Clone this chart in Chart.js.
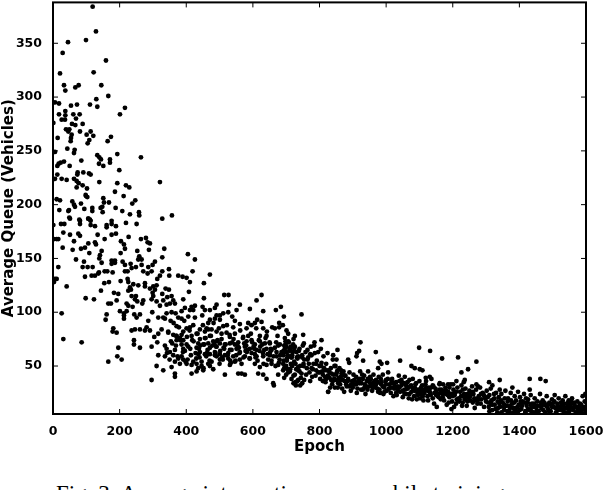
<!DOCTYPE html>
<html lang="en">
<head>
    <meta charset="UTF-8">
    <title>Average Queue per Epoch</title>
    <script src="https://cdn.jsdelivr.net/npm/chart.js"></script>
    <style>
        html, body { margin: 0; padding: 0; background: #fff; overflow: hidden; width: 604px; height: 490px; }
        #wrap { position: relative; width: 604px; height: 490px; overflow: hidden; }
        canvas { position: absolute; left: 0; top: 0; }
        #caption { position: absolute; left: 56px; top: 481px; font: 23px "Liberation Serif", serif; white-space: nowrap; color: #000; }
    </style>
</head>
<body>
    <div id="wrap">
        <canvas id="myChart" width="604" height="460"></canvas>
        <div id="caption">Fig. 3: Average intersection queue while training</div>
    </div>

    <script>
        const xTicks = [0, 200, 400, 600, 800, 1000, 1200, 1400, 1600];
        const yTicks = [50, 100, 150, 200, 250, 300, 350];

        // values, top part of the cloud
        const epochsHigh = [119,129,45,99,29,159,21,122,33,37,67,77,145,166,130,6,18,54,72,111,133,216,37,37,18,61,80,201,69,26,36,1,
            57,67,89,39,49,46,81,113,101,121,56,174,14,54,164,53,109,104,43,65,63,6,193,133,139,144,264,85,171,171,33,23,17,13,
            138,50,151,199,91,74,73,108,113,13,6,26,41,63,71,77,139,321,193,89,219,229,71,102,186,98,103,99,212,151,11,21,
            247,238,58,63,66,84,168,153,148,19,48,94,118,118,188,143,149,208,46,231,258,259,357,328,49,79,106,111,176];
        const queueHigh = [384,361,351,353,341,334,322,323,311,306,309,311,311,301,298,295,294,292,293,293,291,290,287,283,284,284,284,284,280,279,279,276,
            275,274,275,270,270,268,268,268,265,264,265,263,262,262,259,259,260,257,252,251,248,249,247,246,244,242,244,241,242,239,240,239,238,236,
            238,236,236,232,230,230,228,229,228,228,224,224,223,224,222,220,221,221,220,218,218,216,216,215,212,209,207,208,208,206,205,204,
            204,201,203,200,198,201,202,202,198,195,195,196,197,194,197,197,193,194,194,191,193,190,190,187,188,186,187,186,185];

        // middle of the cloud
        const epochsMid = [1,24,34,51,81,81,106,113,126,113,161,161,176,189,219,251,31,11,16,3,51,76,81,134,176,189,227,63,155,204,126,129,
            106,96,213,216,264,279,284,291,29,59,84,334,288,146,109,253,259,203,141,139,405,426,328,69,256,266,146,176,186,176,
            186,93,209,216,233,306,299,16,89,104,119,266,236,249,286,216,224,155,163,179,138,271,284,296,328,348,419,471,376,389,401,349,
            96,116,126,136,313,321,6,11,3,203,224,226,411,453,241,256,231,154,168,276,276,301,311,291,306,41,338,348,226,234,144,183,
            196,408,249,236,299,301,328,343,356,361,514,527,626,98,123,453,391,611,296,311,321,331,341,246,253,271,268,191,166,174,221,226,
            239,351,366,491,486,528,561,551,396,386,416,426,411,421,449,456,471,591,631,669,684,298,26,201,213,221,341,356,368,448,511,526,
            491,501,693,538,161,158,213,213,244,261,251,376,386,406,316,331,336,286,353,471,486,466,501,613,606,561,511,541,371,401,411,421,
            596,679,679,666,631,281,276,291,181,191,179,236,246,261,326,441,461,476,456,491,506,521,581,701,346,361,391,371,386,431,416,546];
        const queueMid = [181,182,182,187,185,182,187,185,180,181,181,179,182,180,183,182,174,168,168,168,172,173,171,172,172,173,170,166,168,166,165,163,
            164,160,163,159,168,169,165,164,160,158,159,159,158,157,155,157,152,155,153,150,154,149,151,149,149,149,146,148,148,145,
            146,147,147,144,145,147,144,142,142,142,142,144,141,142,142,138,138,138,138,137,137,138,136,138,138,140,138,135,134,133,132,134,
            133,134,134,136,131,134,131,131,128,129,131,128,128,127,126,125,123,127,128,127,124,124,125,122,121,124,122,121,120,121,120,118,
            117,119,115,115,118,115,117,114,115,111,116,116,116,113,112,113,112,111,112,110,106,111,107,112,110,111,108,111,108,108,108,106,
            105,108,108,107,104,107,107,102,104,101,105,106,102,102,105,102,102,103,101,102,105,100,99,101,99,101,99,100,99,97,99,100,
            97,97,96,96,98,93,97,94,98,98,95,95,94,96,95,95,94,92,92,93,94,90,93,93,90,89,87,86,87,85,86,88,
            88,90,86,85,85,86,83,83,85,81,82,83,84,84,84,84,85,84,82,82,80,81,85,83,81,79,82,78,79,80,78,80];

        // lower part of the cloud, 250 to 740
        const epochsLow = [471,456,441,621,641,726,31,304,316,371,391,381,531,491,571,586,596,581,696,706,86,243,243,313,436,451,466,481,501,516,531,546,
            606,621,636,651,681,701,721,196,261,296,336,341,369,401,391,431,471,491,576,591,611,531,551,561,641,656,671,711,731,441,456,471,
            486,501,516,351,361,396,386,376,391,316,336,491,506,526,541,576,591,611,631,651,671,691,711,736,193,206,166,366,381,401,421,431,
            446,466,471,501,531,546,561,606,621,641,656,676,691,716,736,311,356,331,366,366,436,451,431,481,416,516,556,566,576,616,631,676,
            691,711,726,641,661,663,296,729,736];
        const queueLow = [78,76,75,78,78,78,75,77,80,74,74,76,77,73,77,78,74,73,76,73,72,74,70,72,71,70,71,73,71,70,71,70,
            70,73,71,71,70,68,70,67,67,68,69,66,69,70,66,67,67,68,68,66,65,65,66,63,66,65,63,65,63,63,61,61,
            63,61,60,63,60,64,59,57,56,60,59,59,57,57,59,59,57,59,59,60,59,60,59,59,59,56,54,54,52,52,54,52,
            50,52,50,56,51,54,56,52,49,51,52,51,52,51,49,50,49,46,43,40,48,46,45,47,43,42,43,43,42,43,42,42,
            46,45,42,38,34,32,37,32,37];

        // the darkest part of the cloud, 340 to 780
        const epochsCore = [342,350,358,366,374,382,390,398,406,414,422,430,438,446,454,462,
            470,478,486,494,502,510,518,526,534,542,550,558,566,574,582,590,
            598,606,614,622,630,638,646,654,662,670,678,686,694,702,710,718,
            346,354,362,370,378,386,394,402,410,418,426,434,442,450,458,466,
            474,482,490,498,506,514,522,530,538,546,554,562,570,578,586,594,
            602,610,618,626,634,642,650,658,666,674,682,690,698,706,714,722,
            404,416,428,440,452,464,476,488,500,512,524,536,548,560,572,584,
            596,608,620,632,644,656,668,680,692,704,716,728,740,752,764,776,
            412,436,460,484,508,532,556,580,604,628,652,676,700,724,748,772];
        const queueCore = [62,56,71,65,59,74,63,54,68,60,73,57,66,54,70,62,
            55,69,60,74,64,56,70,62,53,75,60,67,52,71,63,57,
            72,61,55,68,62,76,56,66,59,72,53,63,69,57,64,50,
            82,73,90,78,86,70,92,77,83,74,95,80,69,88,76,84,
            78,90,68,85,75,66,88,79,72,92,69,83,76,64,90,80,
            68,85,74,91,65,82,72,86,67,78,60,88,73,80,68,75,
            56,51,62,58,48,65,54,62,52,67,60,65,55,62,58,65,
            62,58,64,52,61,55,50,56,64,47,58,52,45,50,56,48,
            66,61,59,70,58,55,72,69,66,70,63,69,63,66,58,61];

        // scattered marks above the band on the right
        const epochsOutliers = [746,751,753,785,806,923,919,913,969,1099,1132,1168,1216,1271,1042,1003,981,986,976,931,911,886,889,854,841,851,1076,1086,1101,1109,1246,1226,
            1341,1431,1463,1479,1309,1319,1431,1379,1271,1276,1236,1233,1211,1186,1201,1161,1171,1131,1119,1056,1046,1341,1396,826];
        const queueOutliers = [98,79,71,72,74,72,64,62,63,67,64,57,58,54,55,53,54,52,48,55,59,56,53,65,60,56,50,48,47,46,47,44,
            37,38,38,36,35,32,28,30,33,31,37,35,36,33,33,34,33,40,39,40,37,28,26,26];

        // the dense band, 690 to 1170
        const epochsBand = [690,694,698,702,706,710,714,718,722,726,730,734,738,742,746,750,
            692,696,700,704,708,712,716,720,724,728,732,736,740,744,748,752,
            754,758,762,766,770,774,778,782,786,790,694,700,716,722,734,742,
            748,754,760,764,768,772,776,780,784,788,792,796,800,804,808,812,
            816,820,824,828,832,836,840,844,848,852,856,860,864,868,872,876,
            796,802,806,810,814,818,822,826,830,834,838,842,846,850,854,858,
            862,866,870,874,878,882,886,890,894,898,902,906,910,914,918,922,
            926,930,934,938,942,946,950,954,958,962,966,970,974,978,982,986,
            990,994,998,1002,1006,1010,1014,1018,1022,1026,1030,1034,1038,1042,1046,1050,
            880,900,912,920,928,936,944,952,960,968,976,984,992,1000,1008,1016,
            1024,1032,1040,1048,1056,1060,1064,1068,1072,1076,1080,1084,1088,1092,1096,1100,
            1104,1108,1112,1116,1120,1124,1128,1132,1136,1140,1144,1148,1152,1156,1160,1164,
            1054,1062,1070,1078,1086,1094,1102,1110,1118,1126,1134,1142,1150,1158,1166,1170,
            790,800,810,820,830,840,850,860,870,880,890,900,910,920,930,940,
            950,960,970,980,990,1000,1010,1020,1030,1040,1050,1060,1070,1080,1090,1100,
            1110,1120,1130,1140,1150,1160,1170,1180,1190,1200,1210,1220,1230,1240,1250,1260,
            805,825,845,865,885,905,925,945,965,985,1005,1025,1045,1065,1085,1105,
            815,835,855,875,895,915,935,955,975,995,1015,1035,1055,1075,1095,1115];
        const queueBand = [62,48,70,55,44,66,52,60,41,68,47,57,64,50,43,69,
            55,66,42,60,72,47,38,63,54,35,58,46,66,39,60,52,
            37,63,48,58,44,68,40,52,62,46,39,50,58,34,36,32,
            34,56,42,65,52,36,60,47,69,41,55,63,50,66,45,59,
            40,52,62,46,30,43,56,38,50,44,34,48,40,29,45,36,
            44,38,53,42,48,35,46,26,39,48,33,42,30,37,46,39,
            33,43,37,26,41,31,38,44,27,36,42,33,40,29,37,45,
            34,28,41,24,36,45,31,38,27,42,33,37,29,40,25,35,
            42,30,36,27,44,33,25,38,22,31,35,28,41,26,32,21,
            35,30,25,38,42,33,28,40,34,30,26,38,24,33,29,36,
            29,23,36,34,28,24,35,20,31,26,38,22,33,19,28,36,
            24,32,18,28,36,22,30,25,38,20,15,29,12,24,33,19,
            34,29,37,19,30,25,20,27,33,18,23,31,26,21,28,24,
            52,44,36,38,44,36,42,36,42,33,31,36,33,34,38,31,
            35,30,33,28,31,37,29,34,25,30,27,32,24,29,34,27,
            22,30,27,32,23,28,21,27,30,22,26,19,28,23,18,26,
            50,41,50,46,36,37,28,38,36,33,38,34,36,29,27,30,
            46,37,30,41,33,35,30,33,35,26,30,31,24,32,23,25];

        // tail of the run, 1170 to 1600
        const epochsTail = [1174,1178,1182,1186,1190,1194,1198,1202,1206,1210,1214,1218,1222,1226,1230,1234,
            1238,1242,1246,1250,1254,1258,1262,1266,1270,1274,1278,1282,1286,1290,1294,1298,
            1302,1306,1310,1314,1318,1322,1326,1330,1334,1338,1342,1346,1350,1354,1358,1362,
            1366,1370,1374,1378,1382,1386,1390,1394,1398,1402,1406,1410,1414,1418,1422,1426,
            1430,1434,1438,1442,1446,1450,1454,1458,1462,1466,1470,1474,1478,1482,1486,1490,
            1494,1498,1502,1506,1510,1514,1518,1522,1526,1530,1534,1538,1542,1546,1550,1554,
            1558,1562,1566,1570,1574,1578,1582,1586,1590,1594,1598,1180,1196,1212,1228,1244,
            1260,1276,1292,1308,1324,1340,1356,1372,1388,1404,1420,1436,1452,1468,1484,1500,
            1516,1532,1548,1564,1580,1596,1310,1328,1346,1364,1382,1400,1418,1436,1454,1472,
            1490,1508,1526,1544,1562,1580,1598,1318,1336,1354,1372,1390,1408,1426,1444,1462,
            1480,1498,1516,1534,1552,1570,1588,1188,1204,1220,1236,1252,1268,1284,1300,1316,
            1125,1145,1165,1185,1205,1225,1245,1265,1285,1305,1325,1345,1365,1385,1405,1425,
            1135,1155,1175,1195,1215,1235,1255,1275,1295,1315,1335,1355,1375,1395,1415,1435,
            1445,1465,1485,1505,1525,1545,1565,1585,1455,1475,1495,1515,1535,1555,1575,1595];
        const queueTail = [18,30,14,26,21,33,17,28,23,15,30,20,26,32,16,24,
            29,13,21,27,18,31,24,11,28,15,22,30,19,25,12,20,
            27,16,23,29,9,19,14,25,7,21,12,24,16,9,27,13,
            20,8,25,15,11,22,18,7,14,21,10,17,24,8,13,19,
            9,23,15,7,20,12,17,8,24,11,18,14,7,22,10,16,
            8,19,12,23,7,15,20,10,13,18,7,22,11,16,8,14,
            20,9,13,7,17,11,15,8,22,12,24,24,10,19,13,17,
            16,20,24,12,24,15,20,13,9,17,20,12,9,15,12,15,
            9,13,18,16,8,17,8,10,7,8,7,9,7,8,7,9,
            8,11,9,7,11,13,7,14,11,12,11,11,13,10,12,13,
            13,12,12,10,11,12,11,16,12,17,19,22,18,15,17,18,
            27,25,25,23,25,22,24,20,24,21,20,18,17,16,15,16,
            30,22,27,24,18,21,25,18,22,15,17,14,18,12,16,14,
            15,16,14,17,16,13,15,14,13,16,14,13,15,17,10,10];

        const epochs = [...epochsHigh, ...epochsMid, ...epochsLow, ...epochsCore, ...epochsOutliers, ...epochsBand, ...epochsTail];
        const queue = [...queueHigh, ...queueMid, ...queueLow, ...queueCore, ...queueOutliers, ...queueBand, ...queueTail];
        const points = epochs.map((e, i) => ({ x: e, y: queue[i] }));

        // matplotlib style frame: thick box, ticks pointing inward on all four sides
        const frame = {
            id: 'frame',
            afterDatasetsDraw(chart) {
                const { ctx, chartArea: a, scales } = chart;
                ctx.save();
                ctx.strokeStyle = '#000';
                ctx.lineWidth = 1;
                ctx.beginPath();
                scales.x.ticks.forEach((t, i) => {
                    const px = scales.x.getPixelForTick(i);
                    ctx.moveTo(px, a.bottom); ctx.lineTo(px, a.bottom - 5);
                    ctx.moveTo(px, a.top); ctx.lineTo(px, a.top + 5);
                });
                scales.y.ticks.forEach((t, i) => {
                    const py = scales.y.getPixelForTick(i);
                    ctx.moveTo(a.left, py); ctx.lineTo(a.left + 5, py);
                    ctx.moveTo(a.right, py); ctx.lineTo(a.right - 5, py);
                });
                ctx.stroke();
                ctx.lineWidth = 2;
                ctx.strokeRect(a.left, a.top, a.right - a.left, a.bottom - a.top);
                ctx.restore();
            }
        };

        const tickFont = { family: '"DejaVu Sans"', size: 12.5, weight: 'bold' };
        const titleFont = { family: '"DejaVu Sans"', size: 15, weight: 'bold' };

        new Chart(document.getElementById('myChart').getContext('2d'), {
            type: 'scatter',
            data: {
                datasets: [{
                    data: points,
                    backgroundColor: '#000',
                    borderWidth: 0,
                    pointRadius: 2.4,
                    pointHoverRadius: 2.4
                }]
            },
            plugins: [frame],
            options: {
                responsive: false,
                animation: false,
                layout: { padding: { top: 2, right: 18, left: 0, bottom: 0 } },
                plugins: { legend: { display: false }, tooltip: { enabled: false } },
                scales: {
                    x: {
                        min: 0,
                        max: 1600,
                        afterBuildTicks: s => { s.ticks = xTicks.map(v => ({ value: v })); },
                        afterFit: s => { s.height = 46; s.paddingLeft = 0; s.paddingRight = 0; },
                        grid: { display: false },
                        border: { display: false },
                        ticks: { color: '#000', font: tickFont, maxRotation: 0, padding: 2, autoSkip: false, callback: v => String(v) },
                        title: { display: true, text: 'Epoch', color: '#000', font: titleFont, padding: { top: 4, bottom: 4 } }
                    },
                    y: {
                        min: 5.4,
                        max: 388,
                        afterBuildTicks: s => { s.ticks = yTicks.map(v => ({ value: v })); },
                        afterFit: s => { s.width = 53; s.paddingTop = 0; s.paddingBottom = 0; },
                        grid: { display: false },
                        border: { display: false },
                        ticks: { color: '#000', font: tickFont, padding: 3, autoSkip: false, callback: v => String(v) },
                        title: { display: true, text: 'Average Queue (Vehicles)', color: '#000', font: titleFont, padding: 0 }
                    }
                }
            }
        });
    </script>
</body>
</html>
